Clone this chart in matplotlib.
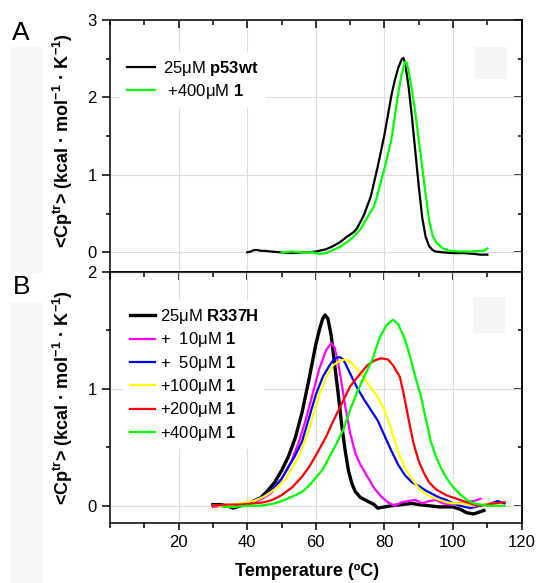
import matplotlib
matplotlib.use("Agg")
from matplotlib import pyplot as plt
from matplotlib.patches import Rectangle
from matplotlib.ticker import MultipleLocator

plt.rcParams['font.family'] = ['Liberation Sans', 'DejaVu Sans']
plt.rcParams['mathtext.fontset'] = 'custom'
plt.rcParams['mathtext.rm'] = 'Liberation Sans'
plt.rcParams['mathtext.bf'] = 'Liberation Sans:bold'

# Panel A: p53wt with / without compound 1
t_wt = [40, 41, 42, 43, 44, 45, 47, 50, 53, 56, 58, 60, 63, 65, 67, 69, 71, 72, 74, 76, 78, 80, 82, 83, 84, 85, 85.5,
        86, 87, 88, 89, 90, 91, 92, 93, 94, 95, 97, 100, 103, 106, 108, 110]
cp_wt = [0.0, 0.01, 0.03, 0.03, 0.02, 0.02, 0.01, 0.0, -0.01, 0.0, 0.0, 0.01, 0.04, 0.08, 0.13, 0.2, 0.26, 0.31, 0.48,
         0.72, 1.1, 1.52, 2.02, 2.22, 2.38, 2.49, 2.51,
         2.45, 2.15, 1.75, 1.3, 0.85, 0.45, 0.2, 0.08, 0.03, 0.01, 0.0, -0.01, -0.01, -0.02, -0.03, -0.03]
t_wt400 = [50, 53, 56, 59, 61, 63, 65, 67, 69, 71, 73, 75, 77, 78, 80, 82, 83, 84, 85, 86, 86.5, 87, 88, 89, 90, 91,
           92, 93, 94, 95, 96, 97, 99, 102, 105, 108, 109, 110]
cp_wt400 = [0.0, 0.01, 0.0, 0.0, -0.02, -0.01, 0.03, 0.07, 0.13, 0.2, 0.3, 0.45, 0.6, 0.75, 1.08, 1.45, 1.75, 2.05,
            2.3, 2.46, 2.45, 2.35, 2.1, 1.8, 1.45, 1.1, 0.75, 0.42, 0.22, 0.13, 0.09, 0.05, 0.02, 0.01, 0.01, 0.02,
            0.02, 0.05]
labels_a = ["25μM $\\mathbf{p53wt}$", " +400μM $\\mathbf{1}$"]

# Panel B: R337H titrated with compound 1
t_r0 = [30, 32, 34, 36, 38, 40, 42, 44, 46, 48, 50, 52, 54, 56, 58, 60, 61, 62, 62.7, 63.5, 64.5, 65.5, 66.5, 67.5,
        68.5, 69.5, 70.5, 71.5, 73, 75, 77, 78, 80, 82, 85, 88, 90, 93, 96, 100, 102, 104, 106, 108, 109]
cp_r0 = [0.01, 0.01, 0.0, -0.02, 0.0, 0.01, 0.04, 0.07, 0.13, 0.2, 0.3, 0.42, 0.58, 0.8, 1.08, 1.38, 1.5, 1.6, 1.63,
         1.6, 1.45, 1.2, 0.96, 0.7, 0.48, 0.3, 0.19, 0.12, 0.07, 0.04, 0.01, -0.02, -0.01, 0.0, 0.01, 0.02, 0.01,
         0.0, -0.01, -0.01, -0.03, -0.06, -0.07, -0.05, -0.04]
t_r10 = [30, 33, 36, 39, 42, 45, 47, 49, 51, 53, 55, 57, 59, 61, 63, 64.5, 65.5, 66.5, 67.5, 68.5, 70, 71.5, 73, 75,
         77, 79, 81, 83, 85, 87, 89, 91, 93, 95, 97, 100, 103, 106, 108]
cp_r10 = [-0.01, 0.0, 0.0, 0.01, 0.03, 0.07, 0.11, 0.18, 0.28, 0.39, 0.54, 0.73, 0.95, 1.17, 1.33, 1.39, 1.35, 1.22,
          1.05, 0.86, 0.62, 0.45, 0.35, 0.25, 0.15, 0.08, 0.03, 0.0, 0.03, 0.04, 0.05, 0.02, 0.04, 0.05, 0.02, 0.01,
          0.03, 0.04, 0.06]
t_r50 = [30, 34, 38, 41, 44, 47, 50, 52, 54, 56, 58, 60, 62, 64, 65.5, 67, 68, 70, 72, 74, 76, 78, 80, 82, 84, 86,
         88, 90, 92, 94, 96, 98, 100, 102, 105, 108, 111, 113, 115]
cp_r50 = [0.0, 0.0, 0.01, 0.03, 0.07, 0.13, 0.23, 0.33, 0.43, 0.55, 0.75, 0.95, 1.1, 1.2, 1.26, 1.27, 1.25, 1.13,
          1.01, 0.91, 0.82, 0.73, 0.6, 0.47, 0.35, 0.26, 0.2, 0.17, 0.13, 0.1, 0.07, 0.05, 0.02, 0.0, -0.02, 0.0,
          0.02, 0.04, 0.02]
t_r100 = [30, 34, 38, 42, 45, 48, 51, 53, 55, 57, 59, 61, 63, 65, 67, 68.5, 70, 72, 74, 76, 78, 80, 82, 84, 86, 88,
          90, 92, 94, 96, 98, 100, 103, 106, 109, 112, 113]
cp_r100 = [0.0, 0.0, 0.02, 0.04, 0.08, 0.14, 0.22, 0.32, 0.42, 0.57, 0.75, 0.95, 1.1, 1.2, 1.24, 1.25, 1.23, 1.17,
           1.1, 1.01, 0.93, 0.82, 0.65, 0.46, 0.32, 0.23, 0.15, 0.1, 0.07, 0.05, 0.03, 0.02, 0.02, 0.0, 0.01, 0.02,
           0.02]
t_r200 = [30, 34, 38, 42, 45, 47.3, 50, 53.2, 56, 58, 60, 63, 65, 68, 70, 73, 75, 77, 79, 81, 82.5, 84.5, 85.5, 86.5,
          87.5, 88.5, 90, 91.5, 93, 95, 98, 101, 104, 107, 110, 112, 115]
cp_r200 = [0.0, 0.01, 0.01, 0.02, 0.03, 0.05, 0.09, 0.16, 0.25, 0.33, 0.43, 0.59, 0.72, 0.9, 1.02, 1.13, 1.2, 1.24,
           1.26, 1.25, 1.2, 1.1, 0.97, 0.82, 0.67, 0.53, 0.38, 0.28, 0.2, 0.14, 0.09, 0.06, 0.03, 0.0, 0.01, 0.02,
           0.03]
t_r400 = [33, 36, 40, 44, 48, 51, 54, 56, 58, 60, 62, 64, 66, 68, 70, 72, 74.5, 76.5, 78.5, 80.5, 82.5, 84, 86, 87.5,
          89, 90.5, 92, 93.5, 95, 96.5, 98, 100, 102, 104, 106, 108, 110, 112, 115]
cp_r400 = [-0.01, -0.01, 0.0, 0.0, 0.02, 0.05, 0.09, 0.12, 0.17, 0.24, 0.31, 0.42, 0.53, 0.65, 0.82, 0.97, 1.13, 1.25,
           1.43, 1.54, 1.59, 1.55, 1.42, 1.27, 1.1, 0.95, 0.75, 0.55, 0.42, 0.32, 0.24, 0.16, 0.1, 0.05, 0.02, 0.01,
           0.0, 0.0, 0.0]
labels_b = ["25μM $\\mathbf{R337H}$", "+  10μM $\\mathbf{1}$", "+  50μM $\\mathbf{1}$",
            "+100μM $\\mathbf{1}$", "+200μM $\\mathbf{1}$", "+400μM $\\mathbf{1}$"]
colors_b = ["black", "#ff00ff", "#0000ff", "#ffff00", "#ff0000", "#00ff00"]

W, H = 536, 583
fig = plt.figure(figsize=(W / 100, H / 100), dpi=100)

# faint grey band of the scanned figure on the left
fig.patches.append(Rectangle((10 / W, 0), 33 / W, 1 - 47 / H, transform=fig.transFigure,
                             facecolor="#f8f8f8", edgecolor="none", zorder=0))
fig.patches.append(Rectangle((10 / W, 1 - 302 / H), 33 / W, 29 / H, transform=fig.transFigure,
                             facecolor="white", edgecolor="none", zorder=0))

axA = fig.add_axes([110 / W, 1 - 271.7 / H, 411.7 / W, 251.7 / H])
axB = fig.add_axes([110 / W, 1 - 523.3 / H, 411.7 / W, 251.6 / H], sharex=axA)

axA.plot(t_wt, cp_wt, color="black", lw=1.6, label=labels_a[0])
axA.plot(t_wt400, cp_wt400, color="#00ff00", lw=1.6, label=labels_a[1])

series_b = [(t_r0, cp_r0), (t_r10, cp_r10), (t_r50, cp_r50), (t_r100, cp_r100), (t_r200, cp_r200), (t_r400, cp_r400)]
for i, (t, cp) in enumerate(series_b):
    axB.plot(t, cp, color=colors_b[i], lw=2.4 if i == 0 else 1.6, label=labels_b[i])

axA.set_ylim(-0.25, 3)
axB.set_ylim(-0.15, 2)
axA.set_xlim(0, 120)

for ax in (axA, axB):
    ax.xaxis.set_major_locator(MultipleLocator(20))
    ax.xaxis.set_minor_locator(MultipleLocator(10))
    ax.yaxis.set_major_locator(MultipleLocator(1))
    ax.yaxis.set_minor_locator(MultipleLocator(0.5))
    ax.grid(True, which="major", color="#dddddd", lw=0.8)
    ax.set_axisbelow(True)
    for s in ax.spines.values():
        s.set_linewidth(1.1)
    ax.tick_params(axis="y", which="both", left=True, right=False, direction="out", labelsize=12, width=1.1)
    ax.tick_params(axis="y", which="major", length=6)
    ax.tick_params(axis="y", which="minor", length=3)

# inward ticks on the right and on top
for ax in (axA, axB):
    ax2 = ax.secondary_yaxis("right")
    ax2.yaxis.set_major_locator(MultipleLocator(1))
    ax2.yaxis.set_minor_locator(MultipleLocator(0.5))
    ax2.tick_params(which="both", direction="in", labelright=False, width=1.1)
    ax2.tick_params(which="major", length=6)
    ax2.tick_params(which="minor", length=3)
    ax2.spines["right"].set_linewidth(1.1)

axA.tick_params(axis="x", which="both", bottom=False, labelbottom=False, top=True, direction="in", width=1.1)
axA.tick_params(axis="x", which="major", length=6)
axA.tick_params(axis="x", which="minor", length=3.5)
axB.tick_params(axis="x", which="both", bottom=True, top=False, direction="out", labelsize=12, width=1.1)
axB.tick_params(axis="x", which="major", length=5)
axB.tick_params(axis="x", which="minor", length=3.5)
axT = axB.secondary_xaxis("top")
axT.xaxis.set_major_locator(MultipleLocator(20))
axT.xaxis.set_minor_locator(MultipleLocator(10))
axT.tick_params(which="both", direction="in", labeltop=False, width=1.1)
axT.tick_params(which="major", length=6)
axT.tick_params(which="minor", length=3.5)
axB.set_xticks([20, 40, 60, 80, 100, 120])

axA.set_yticks([0, 1, 2, 3])
axB.set_yticks([0, 1, 2])

legA = axA.legend(loc="upper left", bbox_to_anchor=(0.025, 0.872), borderaxespad=0, borderpad=0.4,
                  handlelength=1.7, handletextpad=0.48, labelspacing=0.26, fontsize=12,
                  frameon=True, fancybox=False, edgecolor="none", framealpha=1)
legB = axB.legend(loc="upper left", bbox_to_anchor=(0.032, 0.886), borderaxespad=0, borderpad=0.4,
                  handlelength=1.5, handletextpad=0.3, labelspacing=0.26, fontsize=12,
                  frameon=True, fancybox=False, edgecolor="none", framealpha=1)

# faint grey squares from the original scan
axA.add_patch(Rectangle((475 / W, 1 - 79 / H), 32 / W, 32 / H, transform=fig.transFigure,
                        facecolor="#f5f5f5", edgecolor="none", zorder=0.5))
axB.add_patch(Rectangle((473 / W, 1 - 333 / H), 32 / W, 36 / H, transform=fig.transFigure,
                        facecolor="#f5f5f5", edgecolor="none", zorder=0.5))

ylab = "<Cp$^{\\mathbf{tr}}$> (kcal · mol$^{\\mathbf{-1}}$ · K$^{\\mathbf{-1}}$)"
fig.text(63 / W, 1 - 141 / H, ylab, rotation=90, ha="center", va="center", fontsize=13, fontweight="bold")
fig.text(63 / W, 1 - 398 / H, ylab, rotation=90, ha="center", va="center", fontsize=13, fontweight="bold")
fig.text(307 / W, 1 - 572 / H, "Temperature (ºC)", ha="center", va="center", fontsize=13, fontweight="bold")
fig.text(21 / W, 1 - 33 / H, "A", ha="center", va="center", fontsize=19)
fig.text(22 / W, 1 - 287 / H, "B", ha="center", va="center", fontsize=19)

fig.savefig("out.png", dpi=100)
